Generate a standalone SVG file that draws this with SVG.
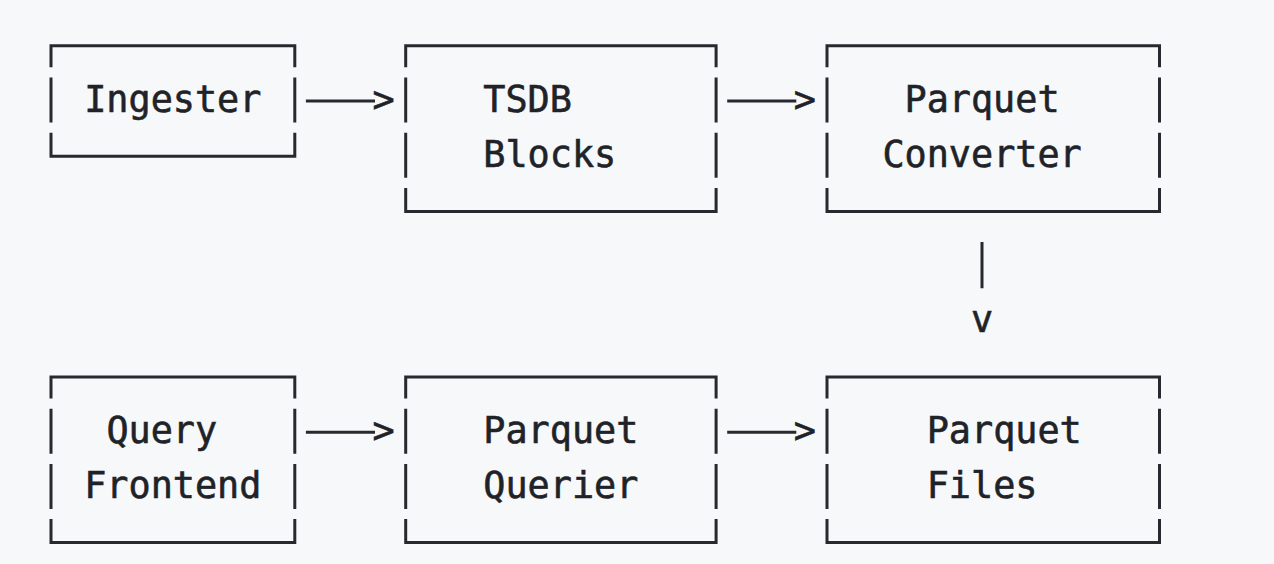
<svg xmlns="http://www.w3.org/2000/svg" width="1274" height="564" viewBox="0 0 1274 564">
  <style>
    .bg { fill: #f6f8fa; }
    .frame { fill: none; stroke: #26292e; stroke-width: 3; stroke-linejoin: miter; stroke-linecap: butt; }
    .wire { fill: none; stroke: #26292e; stroke-width: 3; stroke-linecap: butt; }
    .mono { font-family: "DejaVu Sans Mono", "Liberation Mono", monospace; font-size: 36.8px; fill: #1f2328; stroke: #1f2328; stroke-width: 0.6; }
  </style>

  <rect class="bg" x="0" y="0" width="1274" height="564"/>

  <!-- Grid: columns are 22.17px wide (col 0 centre at x=51), rows are 55.2px apart (row 0 border at y=45.8) -->

  <!-- Top row -->
  <g id="ingester">
    <path class="frame" d="M51,67.3 V45.8 H294.8 V67.3 M51,77.5 V122.5 M294.8,77.5 V122.5 M51,132.7 V156.2 H294.8 V132.7"/>
    <text class="mono" x="84.2" y="111.7">Ingester</text>
  </g>

  <g id="tsdb-blocks">
    <path class="frame" d="M405.7,67.3 V45.8 H716.1 V67.3 M405.7,77.5 V122.5 M716.1,77.5 V122.5 M405.7,132.7 V177.7 M716.1,132.7 V177.7 M405.7,187.9 V211.4 H716.1 V187.9"/>
    <text class="mono" x="483.3" y="111.7">TSDB</text>
    <text class="mono" x="483.3" y="166.9">Blocks</text>
  </g>

  <g id="parquet-converter">
    <path class="frame" d="M827,67.3 V45.8 H1159.5 V67.3 M827,77.5 V122.5 M1159.5,77.5 V122.5 M827,132.7 V177.7 M1159.5,132.7 V177.7 M827,187.9 V211.4 H1159.5 V187.9"/>
    <text class="mono" x="904.5" y="111.7">Parquet</text>
    <text class="mono" x="882.4" y="166.9">Converter</text>
  </g>

  <!-- Bottom row -->
  <g id="query-frontend">
    <path class="frame" d="M51,398.5 V377 H294.8 V398.5 M51,408.7 V453.7 M294.8,408.7 V453.7 M51,463.9 V508.9 M294.8,463.9 V508.9 M51,519.1 V542.6 H294.8 V519.1"/>
    <text class="mono" x="106.4" y="442.9">Query</text>
    <text class="mono" x="84.2" y="498.1">Frontend</text>
  </g>

  <g id="parquet-querier">
    <path class="frame" d="M405.7,398.5 V377 H716.1 V398.5 M405.7,408.7 V453.7 M716.1,408.7 V453.7 M405.7,463.9 V508.9 M716.1,463.9 V508.9 M405.7,519.1 V542.6 H716.1 V519.1"/>
    <text class="mono" x="483.3" y="442.9">Parquet</text>
    <text class="mono" x="483.3" y="498.1">Querier</text>
  </g>

  <g id="parquet-files">
    <path class="frame" d="M827,398.5 V377 H1159.5 V398.5 M827,408.7 V453.7 M1159.5,408.7 V453.7 M827,463.9 V508.9 M1159.5,463.9 V508.9 M827,519.1 V542.6 H1159.5 V519.1"/>
    <text class="mono" x="926.7" y="442.9">Parquet</text>
    <text class="mono" x="926.7" y="498.1">Files</text>
  </g>

  <!-- Connectors: shafts as strokes, heads as the ASCII glyphs ">" and "v" -->
  <g id="connectors">
    <path class="wire" d="M305.9,101 H375 M727.2,101 H796.3 M305.9,432.2 H375 M727.2,432.2 H796.3 M982,242 V288.3"/>
    <text class="mono" x="372.5" y="111.7">&gt;</text>
    <text class="mono" x="793.7" y="111.7">&gt;</text>
    <text class="mono" x="372.5" y="442.9">&gt;</text>
    <text class="mono" x="793.7" y="442.9">&gt;</text>
    <text class="mono" x="982" y="332.3" text-anchor="middle">v</text>
  </g>
</svg>
